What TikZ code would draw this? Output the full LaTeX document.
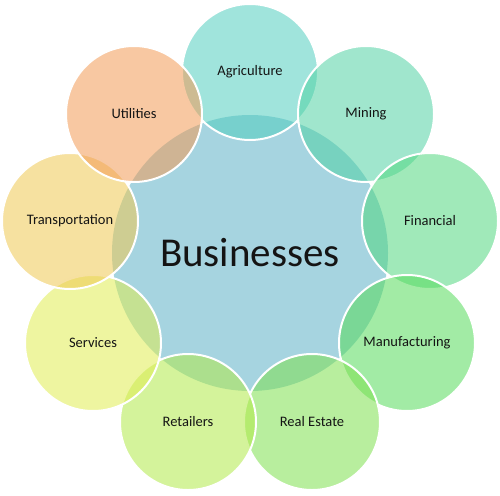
\documentclass[tikz,border=0pt]{standalone}
\usepackage{fontspec}
\setmainfont{Carlito}
\definecolor{central}{RGB}{166,212,224}
\definecolor{agr}{RGB}{82,206,191}
\definecolor{min}{RGB}{82,210,164}
\definecolor{fin}{RGB}{82,215,128}
\definecolor{man}{RGB}{86,219,91}
\definecolor{rea}{RGB}{126,224,79}
\definecolor{ret}{RGB}{177,233,73}
\definecolor{ser}{RGB}{224,237,82}
\definecolor{tra}{RGB}{239,200,82}
\definecolor{uti}{RGB}{242,155,86}
\definecolor{txt}{RGB}{20,20,20}
\begin{document}
\begin{tikzpicture}[x=1pt,y=-1pt,
  bub/.style={circle, minimum size=136pt, inner sep=0pt, draw=white, line width=2pt,
    fill opacity=0.55, draw opacity=1, text opacity=1, text=txt,
    font=\fontsize{14.5}{16}\selectfont},
  hub/.style={circle, minimum size=276pt, inner sep=0pt, fill=central, text=txt,
    font=\fontsize{41}{48}\selectfont}]
\useasboundingbox (0,0) rectangle (500,495);
\node[hub] (biz) at (250,253) {Businesses};
\node[bub, fill=agr] (agr) at (250,72) {Agriculture};
\node[bub, fill=min] (min) at (366,114) {Mining};
\node[bub, fill=fin] (fin) at (430,221) {Financial};
\node[bub, fill=man] (man) at (407,343) {Manufacturing};
\node[bub, fill=rea] (rea) at (312,422) {Real Estate};
\node[bub, fill=ret] (ret) at (188,422) {Retailers};
\node[bub, fill=ser] (ser) at (93,343) {Services};
\node[bub, fill=tra] (tra) at (70,221) {Transportation};
\node[bub, fill=uti] (uti) at (134,114) {Utilities};
\end{tikzpicture}
\end{document}
